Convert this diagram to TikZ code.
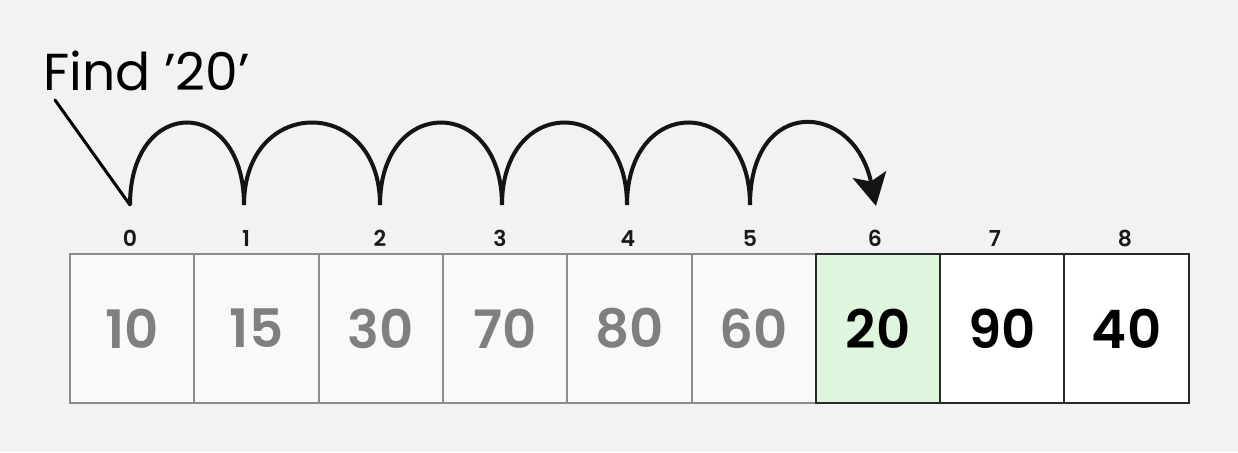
\documentclass[tikz,border=0pt]{standalone}
\usepackage{fontspec}
\setmainfont{Poppins}[BoldFont={Poppins SemiBold}]
\usetikzlibrary{arrows.meta}
\definecolor{bgc}{HTML}{F2F2F2}
\definecolor{gfill}{HTML}{F9F9F9}
\definecolor{gline}{HTML}{8C8C8C}
\definecolor{gtext}{HTML}{7F7F7F}
\definecolor{greenfill}{HTML}{DDF6DD}
\definecolor{dline}{HTML}{2A2A2A}
\tikzset{
  cellbox/.style={rectangle, minimum width=124.3pt, minimum height=149pt, inner sep=0pt, line width=2pt, font=\fontsize{53}{56}\selectfont\bfseries},
  grayc/.style={cellbox, fill=gfill, draw=gline, text=gtext},
  greenc/.style={cellbox, fill=greenfill, draw=dline, text=black},
  whitec/.style={cellbox, fill=white, draw=dline, text=black},
  idx/.style={inner sep=0pt, anchor=base, font=\fontsize{22}{24}\selectfont\bfseries, text=black!90},
  hop/.style={line width=4pt, draw=black!92},
}
\begin{document}
\begin{tikzpicture}[x=1pt,y=-1pt]
\fill[bgc] (0,0) rectangle (1238,452);
\useasboundingbox (0,0) rectangle (1238,452);
% cells
\node[grayc] (c0) at (132.1,328.5) {10};
\node[grayc] (c1) at (256.5,328.5) {15};
\node[grayc] (c2) at (380.8,328.5) {30};
\node[grayc] (c3) at (505.1,328.5) {70};
\node[grayc] (c4) at (629.4,328.5) {80};
\node[grayc] (c5) at (753.7,328.5) {60};
\node[greenc] (c6) at (878.0,328.5) {20};
\node[whitec] (c7) at (1002.3,328.5) {90};
\node[whitec] (c8) at (1126.6,328.5) {40};
% indices
\node[idx] (i0) at (130,246) {0};
\node[idx] (i1) at (246,246) {1};
\node[idx] (i2) at (380,246) {2};
\node[idx] (i3) at (500,246) {3};
\node[idx] (i4) at (628,246) {4};
\node[idx] (i5) at (750,246) {5};
\node[idx] (i6) at (875,246) {6};
\node[idx] (i7) at (995,246) {7};
\node[idx] (i8) at (1125,246) {8};
% label
\node[inner sep=0pt, anchor=base west, font=\fontsize{52}{56}\selectfont] (find) at (43,90) {Find ’20’};
% hop points
\coordinate (s) at (55,100);
\coordinate (p0) at (130,205);
\coordinate (p1) at (244,205);
\coordinate (p2) at (380,205);
\coordinate (p3) at (502,205);
\coordinate (p4) at (627,205);
\coordinate (p5) at (750,205);
\coordinate (p6) at (876,206);
\draw[line width=3pt, line cap=round] (s) -- (p0);
\draw[hop] (p0) .. controls +(0,-110) and +(0,-110) .. (p1)
               .. controls +(0,-110) and +(0,-110) .. (p2)
               .. controls +(0,-110) and +(0,-110) .. (p3)
               .. controls +(0,-110) and +(0,-110) .. (p4)
               .. controls +(0,-110) and +(0,-110) .. (p5);
\draw[hop, -{Stealth[length=32pt,width=34pt,inset=7pt]}] (p5) .. controls +(0,-110) and +(-22,-105) .. (p6);
\end{tikzpicture}
\end{document}
